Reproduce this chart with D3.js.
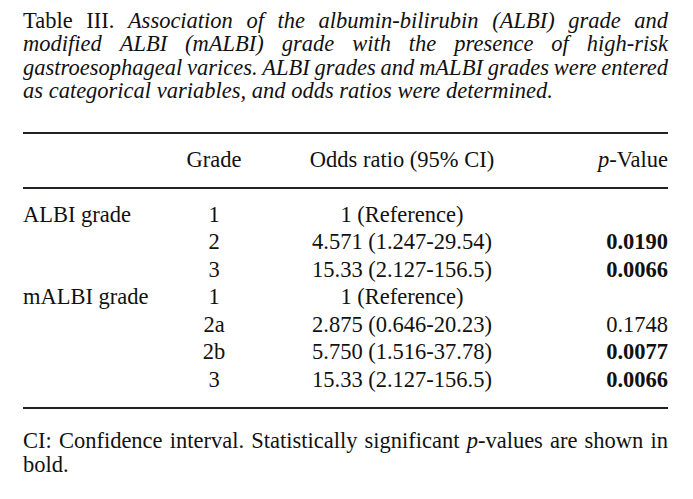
<!DOCTYPE html>
<html>
<head>
<meta charset="utf-8">
<script src="https://cdn.jsdelivr.net/npm/d3@7"></script>
<style>
  html, body { margin: 0; padding: 0; background: #fff; }
  svg { display: block; }
  text { font-family: "Liberation Serif", "Times New Roman", serif; fill: #111; }
</style>
</head>
<body>
<script>
// ---- data ----
const titleLines = [
  [["Table III.", "normal"], ["Association of the albumin-bilirubin (ALBI) grade and", "italic"]],
  [["modified ALBI (mALBI) grade with the presence of high-risk", "italic"]],
  [["gastroesophageal varices. ALBI grades and mALBI grades were entered", "italic"]],
  [["as categorical variables, and odds ratios were determined.", "italic"]]
];
const columnHeaders = ["", "Grade", "Odds ratio (95% CI)", "p-Value"];
const groups = ["ALBI grade", "", "", "mALBI grade", "", "", ""];
const grades = ["1", "2", "3", "1", "2a", "2b", "3"];
const oddsRatios = ["1 (Reference)", "4.571 (1.247-29.54)", "15.33 (2.127-156.5)",
                    "1 (Reference)", "2.875 (0.646-20.23)", "5.750 (1.516-37.78)", "15.33 (2.127-156.5)"];
const pValues = ["", "0.0190", "0.0066", "", "0.1748", "0.0077", "0.0066"];
const significant = [false, true, true, false, false, true, true];
const footLines = [
  [["CI: Confidence interval. Statistically significant", "normal"], ["p", "italic"], ["-values are shown in", "normal"]],
  [["bold.", "normal"]]
];

// ---- layout ----
const W = 693, H = 499;
const left = 23, right = 668;
const fs = 22.5;
const svg = d3.select("body").append("svg").attr("width", W).attr("height", H);

// justified paragraph renderer
function drawLines(lines, y0, lh, size, justifyAll) {
  lines.forEach((segs, li) => {
    const words = [];
    segs.forEach((s, si) => {
      const parts = s[0].split(" ");
      parts.forEach((p, pi) => {
        const glue = pi === 0 && si > 0 && (s[0][0] === "-" || segs[si - 1][0] === "p");
        if (glue) words[words.length - 1].push([p, s[1]]);
        else words.push([[p, s[1]]]);
      });
    });
    const y = y0 + li * lh;
    const g = svg.append("g");
    const nodes = words.map(w => {
      const t = g.append("text").attr("y", y).attr("font-size", size);
      w.forEach(p => t.append("tspan").attr("font-style", p[1]).text(p[0]));
      return t;
    });
    const widths = nodes.map(n => n.node().getComputedTextLength());
    const total = d3.sum(widths);
    const gap = justifyAll[li] && words.length > 1 ? (right - left - total) / (words.length - 1) : size * 0.25;
    let x = left;
    nodes.forEach((n, i) => { n.attr("x", x); x += widths[i] + gap; });
  });
}

drawLines(titleLines, 27.5, 23.5, 22.5, [true, true, true, false]);

// rules
const ruleY = [133, 188, 408];
svg.selectAll("line.rule").data(ruleY).enter().append("line")
  .attr("class", "rule")
  .attr("x1", left).attr("x2", right)
  .attr("y1", d => d).attr("y2", d => d)
  .attr("stroke", "#222").attr("stroke-width", 2);

// column positions
const colX = d3.scaleOrdinal().domain([0, 1, 2, 3]).range([left, 214, 402, right]);
const colAnchor = ["start", "middle", "middle", "end"];

// header
const header = svg.append("g");
columnHeaders.forEach((h, i) => {
  if (!h) return;
  const t = header.append("text").attr("x", colX(i)).attr("y", 167).attr("text-anchor", colAnchor[i]).attr("font-size", fs);
  if (h.startsWith("p-")) {
    t.append("tspan").attr("font-style", "italic").text("p");
    t.append("tspan").text(h.slice(1));
  } else t.text(h);
});

// rows
const y = d3.scalePoint().domain(d3.range(grades.length)).range([221.5, 387]);
const rows = svg.selectAll("g.row").data(grades.map((g, i) => i)).enter().append("g").attr("class", "row");
rows.append("text").attr("x", colX(0)).attr("y", i => y(i)).attr("font-size", fs).text(i => groups[i]);
rows.append("text").attr("x", colX(1)).attr("y", i => y(i)).attr("text-anchor", "middle").attr("font-size", fs).text(i => grades[i]);
rows.append("text").attr("x", colX(2)).attr("y", i => y(i)).attr("text-anchor", "middle").attr("font-size", fs).text(i => oddsRatios[i]);
rows.append("text").attr("x", colX(3)).attr("y", i => y(i)).attr("text-anchor", "end").attr("font-size", fs)
  .attr("font-weight", i => significant[i] ? "bold" : "normal").text(i => pValues[i]);

drawLines(footLines, 447.5, 24, 22.5, [true, false]);
</script>
</body>
</html>
